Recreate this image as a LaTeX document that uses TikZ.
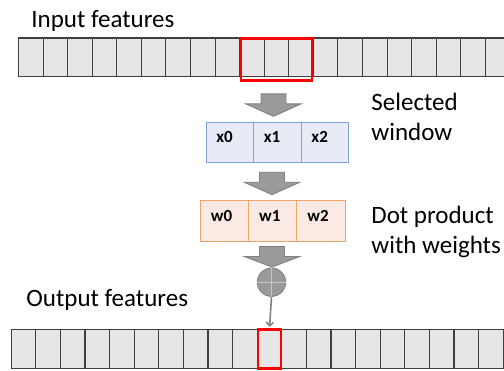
\documentclass[tikz,border=0pt]{standalone}
\usepackage{fontspec}
\setmainfont{Carlito}
\usetikzlibrary{arrows.meta,calc}
\definecolor{cellfill}{HTML}{E6E6E6}
\definecolor{cellline}{HTML}{404040}
\definecolor{winfill}{HTML}{E8EBF5}
\definecolor{winline}{HTML}{7FA3DD}
\definecolor{wfill}{HTML}{FBEAE3}
\definecolor{wline}{HTML}{F4A46B}
\definecolor{arrfill}{HTML}{9A9A9A}
\definecolor{arrline}{HTML}{828282}
\definecolor{plusline}{HTML}{C4C4C4}
\definecolor{hlred}{HTML}{FF0000}
\begin{document}
\begin{tikzpicture}[x=1pt,y=-1pt,
  feat/.style={draw=cellline, fill=cellfill, line width=1.1pt,
    minimum width=24.57pt, inner sep=0pt},
  hl/.style={draw=hlred, line width=2.3pt, inner sep=0pt},
  xcell/.style={draw=winline, fill=winfill, line width=1pt,
    minimum width=47.53pt, minimum height=40pt, inner sep=0pt},
  wcell/.style={draw=wline, fill=wfill, line width=1pt,
    minimum width=48.23pt, minimum height=40.7pt, inner sep=0pt},
  cellname/.style={font=\fontsize{17}{20}\selectfont\bfseries, inner sep=0pt, anchor=base west},
  caption/.style={font=\fontsize{25}{30}\selectfont, inner sep=0pt, anchor=base west},
  arrowshape/.style={draw=arrline, fill=arrfill, line width=0.9pt, line join=miter},
  pics/downarrow/.style 2 args={code={
    \draw[arrowshape] (-12.5,0) -- (12.5,0) -- (12.5,#1) -- (27.8,#1)
      -- (0,#1+#2) -- (-27.8,#1) -- (-12.5,#1) -- cycle;}}]
\useasboundingbox (0,0) rectangle (504,370);
\clip (0,0) rectangle (504,370);

% input feature row
\foreach \i in {0,...,19}
  \node[feat, minimum height=38.5pt] (in\i) at ({18.5+24.57*(\i+0.5)},57.25) {};
\node[hl, minimum width=71pt, minimum height=42pt] (sel) at (276.5,59.5) {};
\node[caption] (inlbl) at (31.2,27.3) {Input features};

% selected window
\pic at (273.5,93.8) {downarrow={10}{12.5}};
\foreach \i/\t in {0/x0,1/x1,2/x2} {
  \node[xcell] (x\i) at ({206.2+47.53*(\i+0.5)},142.8) {};
  \node[cellname] at ($(x\i.north west)+(10.5,19.8)$) {\t};
}
\node[caption] (sel1) at (371.2,110) {Selected};
\node[caption] (sel2) at (371.2,140) {window};

% weights
\pic at (272,172.2) {downarrow={10}{12.5}};
\foreach \i/\t in {0/w0,1/w1,2/w2} {
  \node[wcell] (w\i) at ({200.5+48.23*(\i+0.5)},220.85) {};
  \node[cellname] at ($(w\i.north west)+(10.7,21.3)$) {\t};
}
\node[caption] (dot1) at (371.2,223.3) {Dot product};
\node[caption] (dot2) at (371.2,253.3) {with weights};

% summation
\pic at (272,246.5) {downarrow={10}{10.5}};
\node[circle, draw=arrline, fill=arrfill, line width=0.9pt,
  minimum size=28.4pt, inner sep=0pt] (sum) at (271.5,282.2) {};
\draw[plusline, line width=1.1pt] (sum.north) -- (sum.south);
\draw[plusline, line width=1.1pt] (sum.west) -- (sum.east);

% output feature row
\foreach \i in {0,...,20}
  \node[feat, minimum height=39pt] (out\i) at ({11.2+24.6*(\i+0.5)},349) {};
\node[hl, minimum width=23pt, minimum height=39pt] (pick) at (269.5,349) {};
\node[caption] (outlbl) at (26.2,306.7) {Output features};

\draw[arrline, line width=1.6pt, shorten >=1.5pt,
  -{Straight Barb[length=3.5pt,width=7pt]}] (sum.south) -- (pick.north);
\end{tikzpicture}
\end{document}
